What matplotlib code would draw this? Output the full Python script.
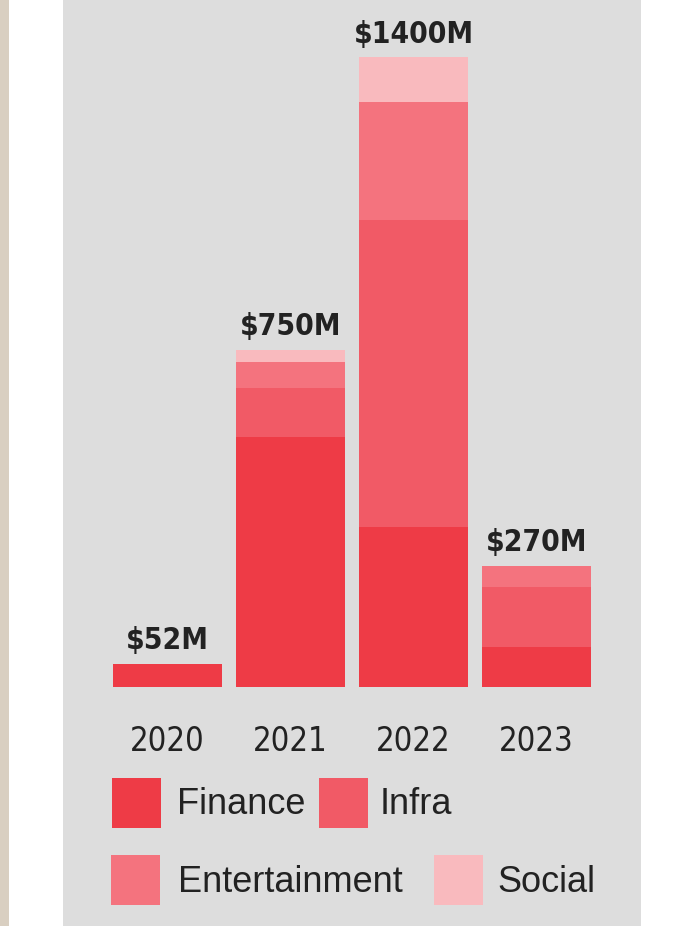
import matplotlib.pyplot as plt
from matplotlib import font_manager as fm
from matplotlib.patches import Rectangle

# funding by year, $M, split by sector
years = ['2020', '2021', '2022', '2023']
totals = [52, 750, 1400, 270]
finance = [52, 555, 356, 90]
infra = [0, 110, 682, 133]
entertainment = [0, 58, 262, 47]
social = [0, 27, 100, 0]

sectors = ['Finance', 'Infra', 'Entertainment', 'Social']
colors = ['#ee3b46', '#f15a66', '#f4737e', '#f9babe']

W, H = 682, 926
REGULAR = ['Liberation Sans', 'DejaVu Sans']
INK = '#222222'


def is_bold(f):
    w = f.weight
    if isinstance(w, str):
        return 'bold' in w.lower()
    return w >= 600


def narrow_font(bold):
    """look for an installed narrow / condensed sans face"""
    for f in fm.fontManager.ttflist:
        name = f.name.lower()
        narrow = ('narrow' in name or 'condensed' in name
                  or str(f.stretch) in ('condensed', 'semi-condensed')
                  or (isinstance(f.stretch, int) and f.stretch < 500))
        if not narrow or 'mono' in name or 'serif' in name:
            continue
        if 'italic' in str(f.style) or 'oblique' in str(f.style):
            continue
        if is_bold(f) == bold:
            return fm.FontProperties(fname=f.fname)
    return None


def px(x, y):
    """pixel position (from top left) to figure fraction"""
    return x / W, 1 - y / H


value_font = narrow_font(True)
if value_font is not None:
    value_font.set_size(21.5)
else:
    value_font = fm.FontProperties(family=REGULAR, weight='bold', size=22)
year_font = narrow_font(False)
if year_font is not None:
    year_font.set_size(23.5)
else:
    year_font = fm.FontProperties(family=REGULAR, size=23.5)

fig = plt.figure(figsize=(W / 100, H / 100), dpi=100)
fig.patch.set_facecolor('white')

# page edge strip and grey card
fig.add_artist(Rectangle((0, 0), 9 / W, 1, transform=fig.transFigure,
                         facecolor='#d9cfc1', edgecolor='none', zorder=0))
fig.add_artist(Rectangle((63 / W, 0), 578 / W, 1, transform=fig.transFigure,
                         facecolor='#dddddd', edgecolor='none', zorder=0))

ax = fig.add_axes([106 / W, (H - 687) / H, 492 / W, 630 / H])
ax.patch.set_alpha(0)
for s in ax.spines.values():
    s.set_visible(False)

x = range(len(years))
bottom = [0] * len(years)
for name, vals, c in zip(sectors, [finance, infra, entertainment, social],
                         colors):
    ax.bar(x, vals, bottom=bottom, width=0.886, color=c, label=name)
    bottom = [b + v for b, v in zip(bottom, vals)]

ax.set_xlim(-0.5, 3.5)
ax.set_ylim(0, 1400)
ax.set_yticks([])
ax.set_xticks(list(x))
ax.set_xticklabels(years, color=INK, fontproperties=year_font)
ax.tick_params(axis='x', length=0, pad=27.5)

# total labels above each stack
for i, t in enumerate(totals):
    ax.annotate('\\$%dM' % t, (i, bottom[i]), xytext=(0, 6),
                textcoords='offset points', ha='center', va='bottom',
                color=INK, fontproperties=value_font)

# legend drawn as two rows of swatches
rows = [(803, [(112, 177), (319, 380)]), (880, [(111, 178), (434, 497)])]
k = 0
for yc, items in rows:
    for sx, tx in items:
        fx, fy = px(sx, yc + 25)
        fig.add_artist(Rectangle((fx, fy), 49 / W, 50 / H,
                                 transform=fig.transFigure,
                                 facecolor=colors[k], edgecolor='none'))
        tx_, ty_ = px(tx, yc + 2)
        fig.text(tx_, ty_, sectors[k], fontsize=26, color=INK,
                 family=REGULAR, va='center', ha='left')
        k += 1

fig.savefig('out.png', dpi=100)
